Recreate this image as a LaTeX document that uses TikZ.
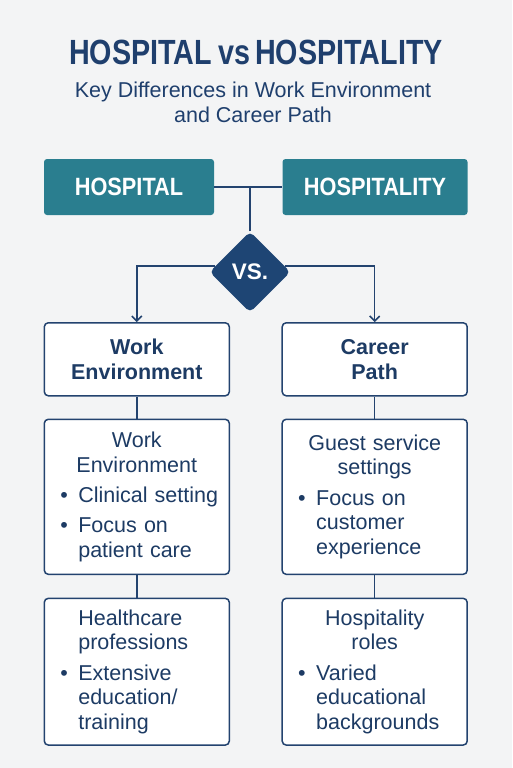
\documentclass[tikz,border=0pt]{standalone}
\usepackage{fontspec}
\setmainfont{Liberation Sans}
\newfontfamily\titlefont[FakeStretch=0.82]{Liberation Sans}
\newfontfamily\headfont[FakeStretch=0.87]{Liberation Sans}
\usetikzlibrary{shapes.geometric,arrows.meta}
\definecolor{bgcol}{HTML}{F3F4F5}
\definecolor{navy}{HTML}{1F3F6D}
\definecolor{tealcol}{HTML}{2A7E8F}
\definecolor{diamcol}{HTML}{1E4574}
\definecolor{linecol}{HTML}{23436F}
\definecolor{textcol}{HTML}{1D3B64}
% bullet line with hanging indent
\newcommand{\bul}[1]{\par\hangindent=24pt\hangafter=1\noindent\makebox[24pt][l]{\hspace{6pt}\textbullet}#1\par}
\newcommand{\gap}{\par\vspace{6pt}}
\tikzset{
  topic/.style={rectangle, rounded corners=3pt, fill=tealcol, text=white, minimum height=56pt, inner sep=0pt, font=\headfont\bfseries\fontsize{25}{30}\selectfont},
  infobox/.style={rectangle, rounded corners=4pt, draw=linecol, line width=1.5pt, fill=white, minimum width=185pt, text width=165pt, inner xsep=10pt, inner ysep=0pt, align=left, text=textcol, font=\fontsize{21.5}{24.5}\selectfont},
  hdrbox/.style={infobox, align=center, minimum height=73pt, font=\bfseries\fontsize{21.5}{25}\selectfont},
  link/.style={draw=linecol, line width=1.5pt},
}
\begin{document}
\begin{tikzpicture}[x=1pt,y=-1pt]
  \fill[bgcol] (0,0) rectangle (512,768);
  \useasboundingbox (0,0) rectangle (512,768);
  % title
  \node[text=navy, inner sep=0pt, font=\titlefont\bfseries\fontsize{35}{40}\selectfont] (title) at (256,52.5) {HOSPITAL\hspace{6pt}vs\hspace{5pt}HOSPITALITY};
  \node[text=navy, align=center, inner sep=0pt, font=\fontsize{21.5}{25}\selectfont] (subtitle) at (253,102) {Key Differences in Work Environment\\and Career Path};
  % the two sides
  \node[topic, minimum width=170pt] (hosp) at (129,187) {HOSPITAL};
  \node[topic, minimum width=185pt] (hospy) at (375,187) {HOSPITALITY};
  \node[diamond, fill=diamcol, minimum width=81pt, minimum height=81pt, inner sep=0pt, rounded corners=5pt, text=white, font=\bfseries\fontsize{22.5}{27}\selectfont] (vs) at (250,272) {VS.};
  % boxes
  \node[hdrbox] (workhdr) at (136.8,359.3) {Work\\Environment};
  \node[hdrbox] (careerhdr) at (374.7,359.3) {Career\\Path};
  \node[infobox, minimum height=155pt] (workbox) at (136.8,496.8) {{\centering Work\\Environment\par}\gap\bul{Clinical setting}\vspace{5.5pt}\bul{Focus on\newline patient care}};
  \node[infobox, minimum height=155pt] (guestbox) at (374.7,496.8) {{\centering Guest service\\settings\par}\gap\bul{Focus on\newline customer\newline experience}};
  \node[infobox, minimum height=146.7pt] (healthbox) at (136.8,671.7) {{\leftskip=24pt Healthcare\\professions\par}\gap\bul{Extensive\newline education/\newline training}};
  \node[infobox, minimum height=146.7pt] (rolesbox) at (374.7,671.7) {{\centering Hospitality\\roles\par}\gap\bul{Varied\newline educational\newline backgrounds}};
  % connectors
  \draw[link] (hosp.east) -- (hospy.west);
  \draw[link] (vs.north) -- (vs.north |- hosp.east);
  \draw[link, -{Straight Barb[length=5pt,width=10pt]}] (vs.170) -| (workhdr.north);
  \draw[link, -{Straight Barb[length=5pt,width=10pt]}] (vs.10) -| (careerhdr.north);
  \draw[link] (workhdr.south) -- (workbox.north);
  \draw[link] (workbox.south) -- (healthbox.north);
  \draw[link] (careerhdr.south) -- (guestbox.north);
  \draw[link] (guestbox.south) -- (rolesbox.north);
\end{tikzpicture}
\end{document}
